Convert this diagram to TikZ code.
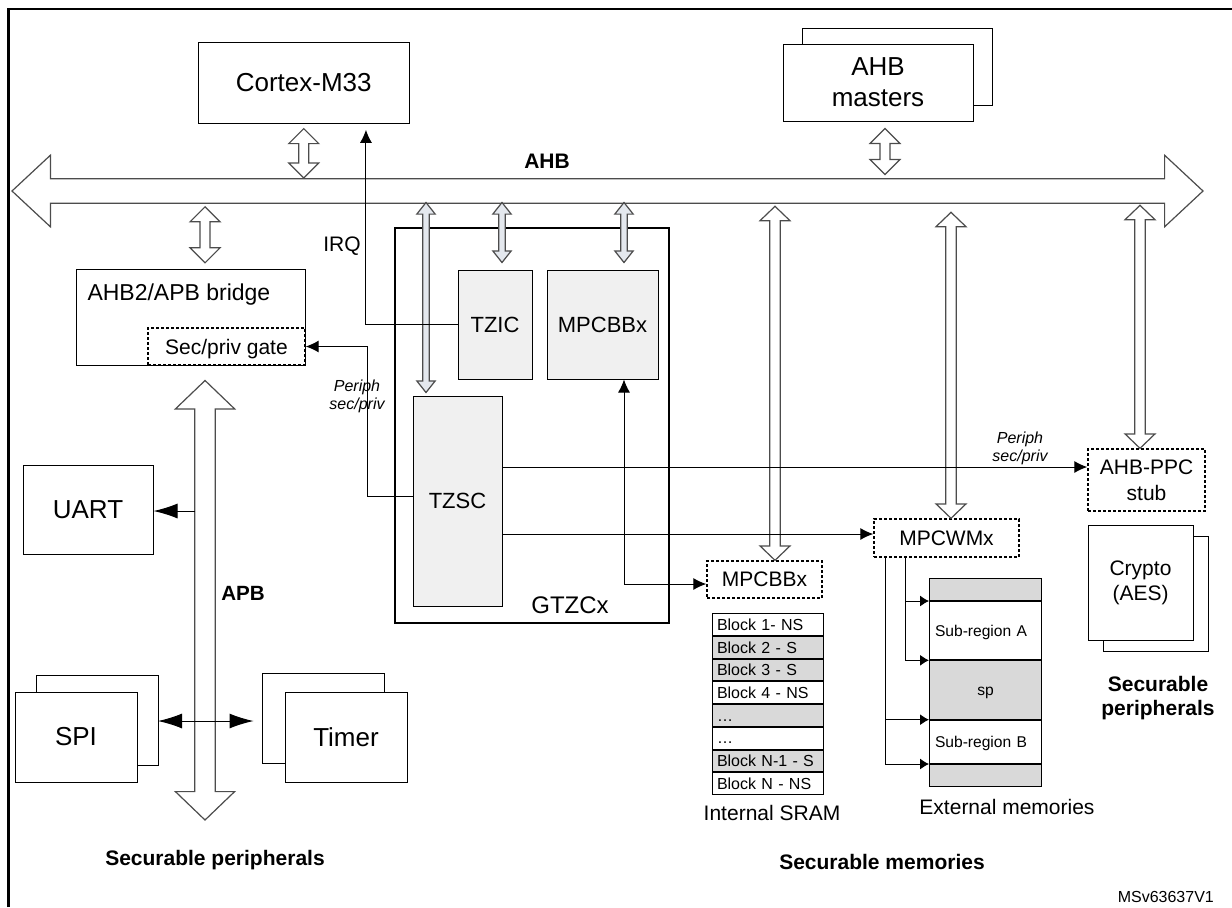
\documentclass[tikz,border=0pt]{standalone}
\usepackage{fontspec}
\setmainfont{Liberation Sans}
\usetikzlibrary{arrows.meta,calc,positioning,shadows}

\definecolor{cellgray}{RGB}{217,217,217}
\definecolor{boxgray}{RGB}{240,240,240}
\definecolor{busblue}{RGB}{228,232,238}

% fat bus arrow: [style]{from}{to}{shaft half}{head half}{head length}
\newcommand\busarrow[6][]{%
  \draw[bus,#1] let \p1=(#2), \p2=(#3), \n1={veclen(\x2-\x1,\y2-\y1)},
    \n2={atan2(\y2-\y1,\x2-\x1)} in
    {[shift={(\p1)},rotate=\n2]
    (0pt,0pt) -- (#6,#5) -- (#6,#4) -- (\n1-#6,#4) -- (\n1-#6,#5) -- (\n1,0pt)
    -- (\n1-#6,-#5) -- (\n1-#6,-#4) -- (#6,-#4) -- (#6,-#5) -- cycle};}

\begin{document}
\begin{tikzpicture}[x=0.5pt,y=-0.5pt,line width=0.5pt,>={Latex[length=6.5pt,width=6pt]},
  main node/.style={draw,fill=white,inner sep=0pt,font=\fontsize{13}{15.5}\selectfont},
  gtz node/.style={draw,fill=boxgray,inner sep=0pt,font=\fontsize{11}{13}\selectfont},
  dash node/.style={draw,dash pattern=on 1.5pt off 1pt,line width=0.7pt,inner sep=0pt,
    align=center,font=\fontsize{10.5}{13}\selectfont},
  row node/.style={draw,inner xsep=2.5pt,inner ysep=0pt,minimum height=10.85pt,
    text width=50.5pt,text height=5.8pt,text depth=0pt,align=left,font=\fontsize{8}{9}\selectfont},
  seg node/.style={draw,inner xsep=2.75pt,inner ysep=0pt,text width=50.5pt,
    text height=5.6pt,text depth=0pt,align=left,font=\fontsize{7.8}{9}\selectfont},
  txt/.style={font=\fontsize{10.5}{12}\selectfont},
  bold txt/.style={font=\bfseries\fontsize{10.5}{12}\selectfont,align=center},
  it txt/.style={font=\itshape\fontsize{8}{9}\selectfont,align=center},
  bus/.style={draw=black!70,fill=white,line width=0.6pt},
  big tip/.style={>={Latex[length=12pt,width=7.5pt]}},
  small tip/.style={>={Latex[length=4.5pt,width=5.5pt]}}]
  \useasboundingbox (0,0) rectangle (1232,907);
  \draw[line width=1.4pt] (8.7,907) -- (8.7,9) -- (1232,9);

  \node[main node,minimum width=105.25pt,minimum height=40.3pt] (cm) at (303.75,83) {Cortex-M33};
  \node[main node,minimum width=95pt,minimum height=38.5pt,align=center,
    copy shadow={shadow xshift=9.5pt,shadow yshift=8pt}] (am) at (878,82.5) {AHB\\masters};

  \node[main node,minimum width=114.15pt,minimum height=47.85pt] (br) at (190.85,317.15) {};
  \node[anchor=base west,inner sep=0pt,font=\fontsize{11.5}{13}\selectfont] (brt) at (87,300) {AHB2/APB bridge};
  \node[dash node,minimum width=78.5pt,minimum height=18.5pt,text height=7.5pt,text depth=0pt] (gate) at (226.5,346.5) {Sec/priv gate};

  \node[draw,line width=1.2pt,minimum width=137pt,minimum height=197.5pt] (gtz) at (532,425.5) {};
  \node[font=\fontsize{12}{14}\selectfont] (gtzl) at (570,605) {GTZCx};
  \node[gtz node,minimum width=37pt,minimum height=54.5pt] (tzic) at (495,324.5) {TZIC};
  \node[gtz node,minimum width=55.5pt,minimum height=54.5pt] (mpcb) at (602.5,324.5) {MPCBBx};
  \node[gtz node,minimum width=44.5pt,minimum height=105pt] (tzsc) at (457.5,501) {TZSC};

  \node[main node,minimum width=65pt,minimum height=44.5pt] (uart) at (88,509.5) {UART};
  \node[main node,minimum width=61pt,minimum height=45pt,
    copy shadow={shadow xshift=10.75pt,shadow yshift=8.25pt}] (spi) at (76,737) {SPI};
  \node[main node,minimum width=61pt,minimum height=45pt,
    copy shadow={shadow xshift=-11.5pt,shadow yshift=9.25pt}] (tim) at (346,737) {Timer};

  \node[dash node,minimum width=57.5pt,minimum height=18.5pt] (mpce) at (764.5,579.5) {MPCBBx};
  \node[dash node,minimum width=72.5pt,minimum height=19pt] (mpcw) at (946.5,538) {MPCWMx};
  \node[dash node,minimum width=58.5pt,minimum height=31pt] (ppc) at (1146.5,480) {AHB-PPC\\stub};
  \node[main node,minimum width=52.5pt,minimum height=57.5pt,align=center,font=\fontsize{10.5}{12.5}\selectfont,
    copy shadow={shadow xshift=7.5pt,shadow yshift=-5.5pt}] (cry) at (1140.5,582.5) {Crypto\\(AES)};

  \coordinate (r0) at (767.5,613.3);
  \foreach \t/\c [count=\i, remember=\i as \j (initially 0)] in {Block 1- NS/white,
      Block 2 - S/cellgray, Block 3 - S/cellgray, Block 4 - NS/white, \ldots/cellgray,
      \ldots/white, Block N-1 - S/cellgray, Block N - NS/white}
    \node[row node,fill=\c,below=0pt of r\j] (r\i) {\t};

  \coordinate (e0) at (985.5,578.3);
  \node[seg node,fill=cellgray,minimum height=10.85pt,below=0pt of e0] (e1) {};
  \node[seg node,minimum height=29.15pt,below=0pt of e1] (e2) {Sub-region A};
  \node[seg node,fill=cellgray,minimum height=29.2pt,align=center,below=0pt of e2] (e3) {sp};
  \node[seg node,minimum height=21.65pt,below=0pt of e3] (e4) {Sub-region B};
  \node[seg node,fill=cellgray,minimum height=10.85pt,below=0pt of e4] (e5) {};

  \node[bold txt] (ahb) at (547,161) {AHB};
  \node[txt] (irq) at (342,246) {IRQ};
  \node[it txt] (ps1) at (357,396) {Periph\\sec/priv};
  \node[it txt] (ps2) at (1020,448) {Periph\\sec/priv};
  \node[bold txt,font=\bfseries\fontsize{10.3}{12}\selectfont] (apb) at (243,593) {APB};
  \node[bold txt] (spl) at (215,860) {Securable peripherals};
  \node[txt] (sram) at (772,813) {Internal SRAM};
  \node[txt] (ext) at (1007,807) {External memories};
  \node[bold txt] (sml) at (882,862) {Securable memories};
  \node[bold txt] (spr) at (1158,698.5) {Securable\\peripherals};
  \node[anchor=east,font=\fontsize{8}{9}\selectfont] (ms) at (1221,897) {MSv63637V1};

  % buses
  \coordinate (ahbw) at (12,191);
  \coordinate (ahbe) at (1203,191);
  \coordinate (ahbt) at (0,178);
  \coordinate (apbs) at (205,820);
  \coordinate (apbl) at (194.9,511);
  \busarrow{ahbw}{ahbe}{6.1pt}{17.9pt}{19.2pt}
  \busarrow{[xshift=7.1pt,yshift=-7.5pt]br.south}{apbs}{5.1pt}{14.8pt}{14.2pt}

  \busarrow{[yshift=-2.4pt]cm.south}{cm.south |- ahbt}{2.5pt}{7.5pt}{7.5pt}
  \busarrow{[xshift=3.5pt,yshift=-3.5pt]am.south}{[xshift=3.5pt,yshift=-26.5pt]am.south}{2.5pt}{7.5pt}{7.5pt}
  \busarrow{[xshift=7.1pt,yshift=3pt]br.north}{[xshift=7.1pt,yshift=31pt]br.north}{2.5pt}{7.5pt}{7.5pt}
  \busarrow[fill=busblue]{[xshift=-15.75pt,yshift=1.5pt]tzsc.north}{[xshift=-15.75pt,yshift=96.5pt]tzsc.north}{1.6pt}{4.6pt}{5.8pt}
  \busarrow[fill=busblue]{[xshift=3.5pt,yshift=3.5pt]tzic.north}{[xshift=3.5pt,yshift=33.5pt]tzic.north}{1.6pt}{4.6pt}{5.8pt}
  \busarrow[fill=busblue]{[xshift=10.75pt,yshift=3.5pt]mpcb.north}{[xshift=10.75pt,yshift=33.5pt]mpcb.north}{1.6pt}{4.6pt}{5.8pt}
  \busarrow{[xshift=5.25pt]mpce.north}{[xshift=5.25pt,yshift=177pt]mpce.north}{2.6pt}{7.5pt}{7.2pt}
  \busarrow{[xshift=2.25pt]mpcw.north}{[xshift=2.25pt,yshift=153pt]mpcw.north}{2.6pt}{7.5pt}{7.2pt}
  \busarrow{[xshift=-3.25pt]ppc.north}{[xshift=-3.25pt,yshift=121.5pt]ppc.north}{2.6pt}{7.5pt}{7.2pt}

  % signals
  \draw[->] (tzic.west) -| ([xshift=31.1pt,yshift=-3pt]cm.south);
  \draw[->] ([yshift=2.5pt]tzsc.west) -| ([xshift=30.75pt]gate.east) -- (gate.east);
  \path[->] ([yshift=17pt]tzsc.east) edge ([yshift=6.5pt]ppc.west)
    ([yshift=-16.5pt]tzsc.east) edge ([yshift=2pt]mpcw.west);
  \draw[<->] ([xshift=10.75pt]mpcb.south) |- ([yshift=-2.25pt]mpce.west);
  \path[->,big tip] (apbl) edge (apbl -| uart.east);
  \draw[<->,big tip] ([xshift=10.25pt,yshift=8pt]spi.east) -- ([xshift=-15.5pt,yshift=8pt]tim.west);
  \foreach \e/\d in {e2/20.75pt,e3/20.75pt,e4/30.75pt,e5/30.75pt}
    \draw[->,small tip] ([xshift=-\d]mpcw.south) |- (\e.north west);
\end{tikzpicture}
\end{document}
